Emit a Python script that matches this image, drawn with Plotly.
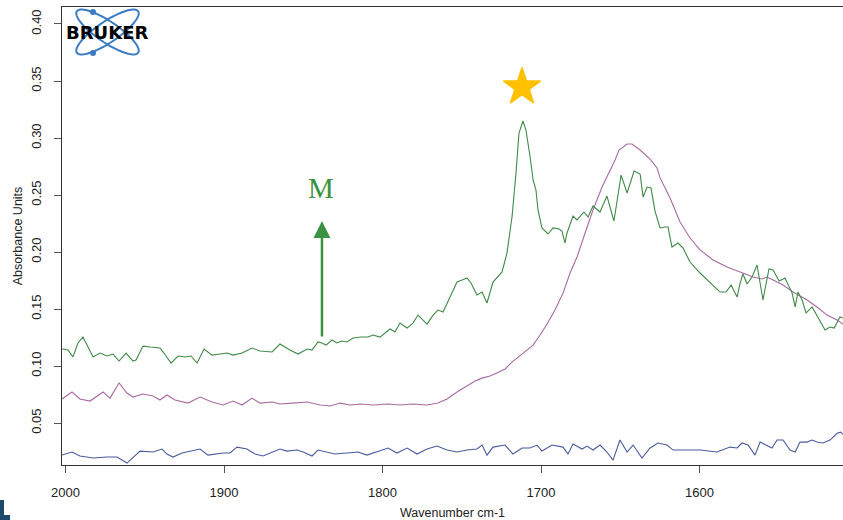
import math
import plotly.graph_objects as go

# ---------------- data ----------------
green_wn = [2002.2, 2001.6, 1998.4, 1995.3, 1992.1, 1989.0, 1986.4, 1982.6, 1978.2, 1973.8,
            1970.0, 1966.2, 1961.8, 1957.4, 1955.5, 1951.1, 1946.7, 1940.4, 1937.9, 1933.4,
            1929.0, 1924.6, 1920.8, 1917.0, 1912.6, 1907.6, 1902.5, 1898.1, 1894.3, 1888.6,
            1882.3, 1877.3, 1869.7, 1864.7, 1858.4, 1853.3, 1847.6, 1844.5, 1840.7, 1838.2,
            1835.6, 1831.9, 1828.7, 1825.6, 1822.4, 1818.6, 1813.6, 1809.1, 1806.0, 1801.6,
            1795.3, 1792.1, 1789.0, 1784.5, 1780.8, 1777.6, 1771.9, 1768.1, 1765.0, 1761.8,
            1757.4, 1753.0, 1749.8, 1746.7, 1744.2, 1740.4, 1737.2, 1734.1, 1730.3, 1724.6,
            1721.5, 1718.3, 1715.8, 1713.9, 1711.4, 1709.5, 1706.9, 1705.0, 1703.2, 1701.9,
            1699.4, 1695.6, 1692.4, 1688.6, 1686.8, 1684.9, 1683.6, 1679.8, 1677.3, 1672.9,
            1670.3, 1667.2, 1662.8, 1658.4, 1654.0, 1649.5, 1645.7, 1641.3, 1637.5, 1635.6,
            1633.1, 1630.6, 1628.1, 1624.9, 1621.8, 1619.9, 1617.4, 1613.6, 1610.4, 1606.0,
            1599.7, 1593.4, 1587.1, 1583.3, 1580.1, 1576.3, 1574.4, 1572.6, 1570.0, 1566.9,
            1563.7, 1560.0, 1556.2, 1553.6, 1549.8, 1546.1, 1541.6, 1539.7, 1537.9, 1535.3,
            1532.8, 1529.0, 1525.2, 1520.8, 1517.7, 1515.1, 1511.4, 1509.5]
green_abs = [0.1149, 0.1149, 0.1140, 0.1079, 0.1202, 0.1254, 0.1184, 0.1079, 0.1114, 0.1088,
             0.1105, 0.1044, 0.1114, 0.1044, 0.1053, 0.1175, 0.1167, 0.1158, 0.1114, 0.1026,
             0.1088, 0.1079, 0.1088, 0.1026, 0.1149, 0.1096, 0.1105, 0.1114, 0.1096, 0.1114,
             0.1158, 0.1132, 0.1123, 0.1193, 0.1140, 0.1105, 0.1149, 0.1140, 0.1211, 0.1202,
             0.1184, 0.1228, 0.1202, 0.1219, 0.1211, 0.1246, 0.1254, 0.1254, 0.1272, 0.1254,
             0.1325, 0.1298, 0.1377, 0.1333, 0.1377, 0.1447, 0.1368, 0.1447, 0.1491, 0.1474,
             0.1605, 0.1737, 0.1754, 0.1772, 0.1728, 0.1623, 0.1649, 0.1553, 0.1737, 0.1825,
             0.1991, 0.2307, 0.2693, 0.3044, 0.3149, 0.3070, 0.2833, 0.2632, 0.2544, 0.2368,
             0.2211, 0.2158, 0.2211, 0.2202, 0.2184, 0.2079, 0.2167, 0.2316, 0.2281, 0.2351,
             0.2307, 0.2404, 0.2351, 0.2491, 0.2272, 0.2675, 0.2518, 0.2710, 0.2684, 0.2482,
             0.2570, 0.2561, 0.2359, 0.2211, 0.2219, 0.2219, 0.2044, 0.2079, 0.2035, 0.1912,
             0.1816, 0.1728, 0.1649, 0.1649, 0.1710, 0.1605, 0.1728, 0.1807, 0.1719, 0.1781,
             0.1886, 0.1579, 0.1851, 0.1842, 0.1746, 0.1772, 0.1640, 0.1518, 0.1649, 0.1579,
             0.1465, 0.1518, 0.1430, 0.1316, 0.1342, 0.1333, 0.1430, 0.1421]

magenta_wn = [2002.2, 1995.9, 1990.9, 1984.5, 1976.3, 1971.9, 1966.2, 1961.2, 1957.4, 1951.1,
              1944.8, 1940.4, 1936.0, 1930.9, 1922.7, 1915.1, 1907.6, 1900.6, 1894.3, 1888.6,
              1882.3, 1877.3, 1869.7, 1864.7, 1856.5, 1847.6, 1839.4, 1833.0, 1826.8, 1820.5,
              1813.6, 1806.0, 1796.5, 1789.0, 1780.8, 1771.9, 1765.0, 1759.3, 1753.0, 1746.7,
              1741.6, 1737.2, 1732.2, 1727.8, 1722.7, 1718.3, 1714.5, 1711.4, 1705.0, 1700.6,
              1696.2, 1691.2, 1686.1, 1681.7, 1677.3, 1672.2, 1667.2, 1661.5, 1657.7, 1653.3,
              1650.8, 1645.7, 1642.6, 1637.5, 1631.2, 1626.8, 1624.9, 1618.6, 1612.3, 1606.0,
              1599.7, 1591.5, 1582.6, 1574.4, 1566.2, 1560.6, 1557.5, 1553.6, 1547.3, 1541.0,
              1532.2, 1525.9, 1519.6, 1513.2, 1509.5]
magenta_abs = [0.0711, 0.0772, 0.0711, 0.0693, 0.0772, 0.0719, 0.0851, 0.0763, 0.0728, 0.0754,
               0.0737, 0.0702, 0.0746, 0.0702, 0.0675, 0.0728, 0.0684, 0.0658, 0.0693, 0.0658,
               0.0719, 0.0675, 0.0684, 0.0667, 0.0675, 0.0684, 0.0658, 0.0649, 0.0675, 0.0658,
               0.0667, 0.0658, 0.0667, 0.0658, 0.0667, 0.0658, 0.0675, 0.0711, 0.0772, 0.0825,
               0.0868, 0.0894, 0.0912, 0.0939, 0.0974, 0.1035, 0.1079, 0.1114, 0.1184, 0.1272,
               0.1368, 0.1491, 0.1640, 0.1816, 0.1956, 0.2167, 0.2368, 0.2570, 0.2675, 0.2807,
               0.2895, 0.2947, 0.2947, 0.2895, 0.2815, 0.2737, 0.2650, 0.2474, 0.2263, 0.2123,
               0.2018, 0.1930, 0.1868, 0.1825, 0.1781, 0.1763, 0.1781, 0.1754, 0.1710, 0.1649,
               0.1579, 0.1518, 0.1447, 0.1404, 0.1368]

blue_wn = [2002.2, 1995.9, 1990.9, 1982.6, 1973.8, 1967.5, 1961.2, 1953.0, 1944.8, 1939.1,
           1936.0, 1932.2, 1926.5, 1920.2, 1915.1, 1910.1, 1900.6, 1896.2, 1891.8, 1885.5,
           1880.4, 1875.4, 1871.0, 1864.7, 1860.3, 1854.0, 1850.0, 1844.5, 1840.7, 1835.0,
           1830.0, 1822.4, 1815.5, 1809.8, 1803.5, 1796.5, 1790.9, 1784.5, 1778.2, 1771.9,
           1765.6, 1759.3, 1753.0, 1746.7, 1740.4, 1737.2, 1734.1, 1730.3, 1722.7, 1717.7,
           1712.0, 1707.0, 1702.5, 1699.4, 1693.1, 1686.1, 1683.0, 1679.8, 1674.1, 1671.0,
           1667.2, 1662.8, 1658.4, 1654.6, 1650.2, 1645.7, 1641.9, 1636.3, 1631.2, 1626.2,
           1620.5, 1616.7, 1610.4, 1599.7, 1589.0, 1580.8, 1576.3, 1573.2, 1569.4, 1565.0,
           1561.8, 1557.5, 1554.3, 1551.1, 1547.3, 1542.9, 1539.7, 1536.6, 1532.2, 1529.0,
           1525.9, 1522.1, 1517.7, 1513.2, 1511.0, 1509.5]
blue_abs = [0.0219, 0.0246, 0.0211, 0.0193, 0.0202, 0.0202, 0.0149, 0.0254, 0.0246, 0.0272,
            0.0228, 0.0202, 0.0237, 0.0254, 0.0272, 0.0219, 0.0237, 0.0237, 0.0289, 0.0272,
            0.0228, 0.0211, 0.0237, 0.0272, 0.0254, 0.0263, 0.0246, 0.0211, 0.0263, 0.0246,
            0.0228, 0.0237, 0.0246, 0.0219, 0.0246, 0.0281, 0.0237, 0.0281, 0.0228, 0.0272,
            0.0298, 0.0263, 0.0246, 0.0263, 0.0272, 0.0307, 0.0219, 0.0289, 0.0307, 0.0228,
            0.0281, 0.0281, 0.0307, 0.0254, 0.0307, 0.0289, 0.0228, 0.0316, 0.0272, 0.0298,
            0.0263, 0.0307, 0.0246, 0.0175, 0.0351, 0.0246, 0.0307, 0.0193, 0.0281, 0.0325,
            0.0307, 0.0263, 0.0263, 0.0263, 0.0246, 0.0289, 0.0281, 0.0325, 0.0307, 0.0219,
            0.0333, 0.0307, 0.0281, 0.0351, 0.0351, 0.0263, 0.0246, 0.0333, 0.0333, 0.0351,
            0.0333, 0.0325, 0.0351, 0.0410, 0.0420, 0.0400]

x_ticks = [2000, 1900, 1800, 1700, 1600]
y_ticks = [0.05, 0.10, 0.15, 0.20, 0.25, 0.30, 0.35, 0.40]
y_tick_labels = ["0.05", "0.10", "0.15", "0.20", "0.25", "0.30", "0.35", "0.40"]

x_range = [2002.2, 1509.5]
y_range = [0.0132, 0.4149]

star_pos = (1712.0, 0.3447)
m_label_pos = (1838.8, 0.2561)
arrow_tip = (1838.2, 0.2272)
arrow_tail = (1838.2, 0.1246)

# ---------------- figure ----------------
W, H = 843, 520
ML, MR, MT, MB = 62, 0, 7, 55
PW, PH = W - ML - MR, H - MT - MB


def px_to_paper(px, py):
    return (px - ML) / PW, (H - MB - py) / PH


fig = go.Figure()
fig.add_trace(go.Scatter(x=blue_wn, y=blue_abs, mode="lines",
                         line=dict(color="#4b5b9e", width=1.1), showlegend=False))
fig.add_trace(go.Scatter(x=magenta_wn, y=magenta_abs, mode="lines",
                         line=dict(color="#a86aa2", width=1.1), showlegend=False))
fig.add_trace(go.Scatter(x=green_wn, y=green_abs, mode="lines",
                         line=dict(color="#3f8a48", width=1.1), showlegend=False))
fig.add_trace(go.Scatter(x=[star_pos[0]], y=[star_pos[1]], mode="markers",
                         marker=dict(symbol="star", size=28, color="#FFC000",
                                     line=dict(color="#FFC000", width=1.5)),
                         showlegend=False))

# Arrow and "M" label
fig.add_annotation(x=arrow_tip[0], y=arrow_tip[1], ax=arrow_tail[0], ay=arrow_tail[1],
                   xref="x", yref="y", axref="x", ayref="y", text="",
                   showarrow=True, arrowhead=2, arrowsize=1.35, arrowwidth=2.5,
                   arrowcolor="#3d9142")
fig.add_annotation(x=m_label_pos[0], y=m_label_pos[1], xref="x", yref="y", text="M",
                   showarrow=False, xanchor="center", yanchor="middle",
                   font=dict(family="Liberation Serif, DejaVu Serif, serif", size=29,
                             color="#3d9142"))

# Bruker logo: two orbits, two dots and the word
shapes = []
cx, cy = 107.5, 32.0
a, b = 37.0, 10.5
for ang in (34, -34):
    th = math.radians(ang)
    pts = []
    for i in range(73):
        t = 2 * math.pi * i / 72
        ex = a * math.cos(t)
        ey = b * math.sin(t)
        px = cx + ex * math.cos(th) - ey * math.sin(th)
        py = cy + ex * math.sin(th) + ey * math.cos(th)
        pts.append(px_to_paper(px, py))
    path = "M " + " L ".join(f"{p[0]:.5f},{p[1]:.5f}" for p in pts) + " Z"
    shapes.append(dict(type="path", path=path, xref="paper", yref="paper",
                       line=dict(color="#3c7cc4", width=2), layer="above"))
for (dx, dy) in [(93, 12), (93, 53)]:
    x0, y0 = px_to_paper(dx - 3, dy + 3)
    x1, y1 = px_to_paper(dx + 3, dy - 3)
    shapes.append(dict(type="circle", xref="paper", yref="paper", x0=x0, y0=y0, x1=x1, y1=y1,
                       fillcolor="#3c7cc4", line=dict(width=0), layer="above"))

# dark "L" mark at the bottom-left corner
for (px0, py0, px1, py1) in [(0, 500, 4, 520), (0, 515, 10, 520)]:
    x0, y0 = px_to_paper(px0, py1)
    x1, y1 = px_to_paper(px1, py0)
    shapes.append(dict(type="rect", xref="paper", yref="paper", x0=x0, y0=y0, x1=x1, y1=y1,
                       fillcolor="#1d4a6c", line=dict(width=0), layer="above"))

bx, by = px_to_paper(106.5, 32.5)
fig.add_annotation(x=bx, y=by, xref="paper", yref="paper", text="<b>BRUKER</b>",
                   showarrow=False, xanchor="center", yanchor="middle",
                   font=dict(family="DejaVu Sans, Liberation Sans, sans-serif", size=18,
                             color="#000000"))

tick_font = dict(family="Liberation Sans, Arial, sans-serif", size=13, color="#222222")
fig.update_layout(
    width=W, height=H,
    margin=dict(l=ML, r=MR, t=MT, b=MB, pad=0),
    paper_bgcolor="white", plot_bgcolor="white",
    shapes=shapes,
    xaxis=dict(range=x_range, tickvals=x_ticks, ticks="outside", ticklen=7,
               tickcolor="#555555", tickwidth=1, showline=True, linecolor="#333333",
               linewidth=1, mirror=True, showgrid=False, zeroline=False,
               tickfont=tick_font, ticklabelstandoff=8,
               title=dict(text="Wavenumber cm-1", standoff=10,
                          font=dict(family="Liberation Sans, Arial, sans-serif", size=12.5,
                                    color="#222222"))),
    yaxis=dict(range=y_range, tickvals=y_ticks, ticktext=y_tick_labels, ticks="outside",
               ticklen=7, tickcolor="#555555", tickwidth=1, showline=True,
               linecolor="#333333", linewidth=1, mirror=False, showgrid=False,
               zeroline=False, tickangle=-90, tickfont=tick_font, ticklabelstandoff=8,
               title=dict(text="Absorbance Units", standoff=3,
                          font=dict(family="Liberation Sans, Arial, sans-serif", size=12.5,
                                    color="#222222"))),
)

fig.write_html("out.html")
